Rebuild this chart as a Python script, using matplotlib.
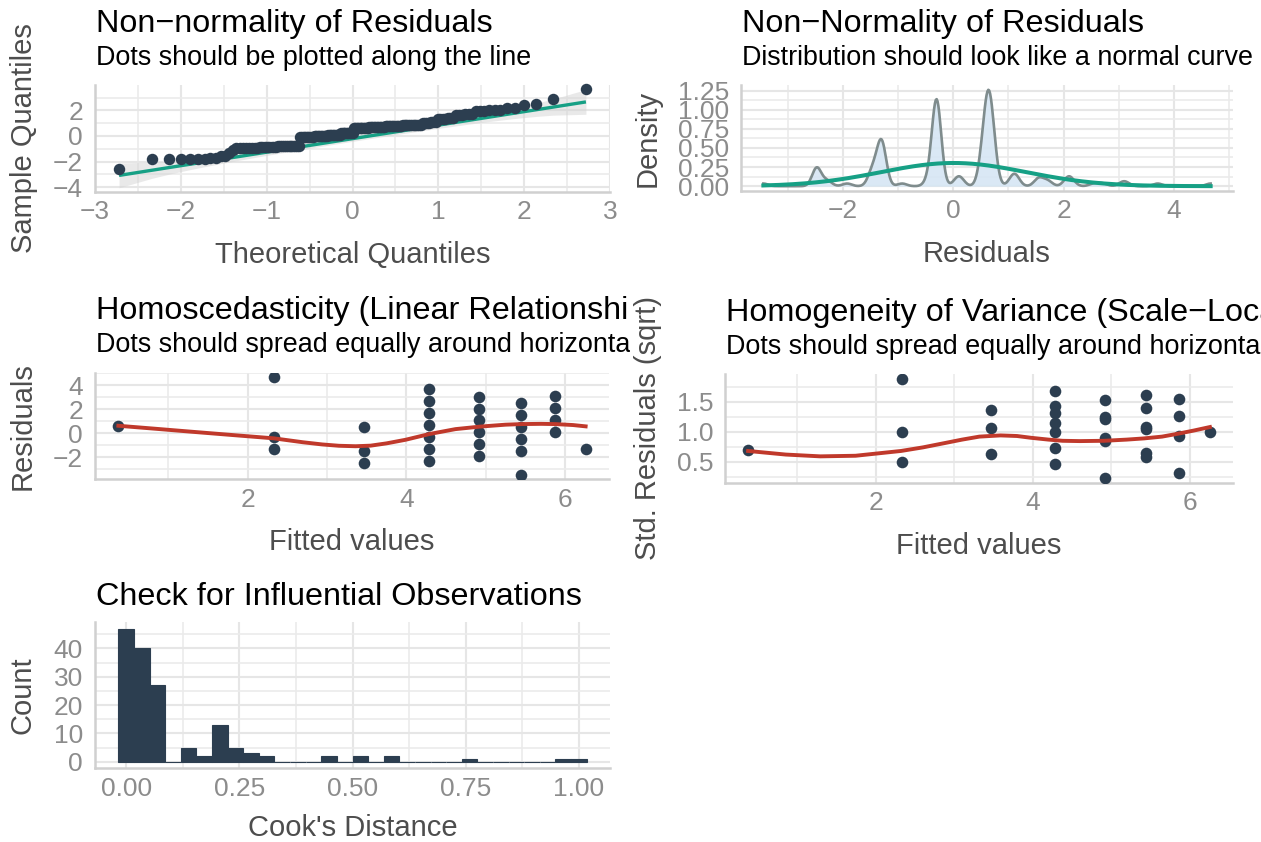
import numpy as np
import matplotlib
matplotlib.use("Agg")
import matplotlib.pyplot as plt
from matplotlib.transforms import Bbox
from statistics import NormalDist

# --- residuals vs fitted (one entry per distinct point, with its multiplicity) ---
fitted = [0.37,
          2.33, 2.33, 2.33,
          3.47, 3.47, 3.47,
          4.29, 4.29, 4.29, 4.29, 4.29, 4.29, 4.29,
          4.92, 4.92, 4.92, 4.92, 4.92, 4.92,
          5.44, 5.44, 5.44, 5.44, 5.44, 5.44,
          5.87, 5.87, 5.87, 5.87,
          6.26]
resid = [0.63,
         4.67, -0.32, -1.32,
         0.52, -1.48, -2.48,
         3.71, 2.71, 1.71, 0.71, -0.29, -1.29, -2.29,
         3.07, 2.07, 1.07, 0.07, -0.93, -1.93,
         2.55, 1.55, 0.55, -0.45, -1.45, -3.45,
         3.13, 2.13, 1.13, 0.13,
         -1.30]
resid_n = [24,
           1, 17, 8,
           4, 3, 7,
           1, 1, 2, 12, 16, 8, 2,
           1, 2, 2, 2, 1, 1,
           1, 3, 5, 2, 3, 1,
           1, 2, 3, 2,
           1]
density_bw = 0.083

# loess smooths as drawn
smooth_resid_x = [0.37, 0.8, 1.26, 1.8, 2.33, 2.7, 2.94, 3.15, 3.36, 3.55, 3.75,
                  3.99, 4.29, 4.62, 4.93, 5.25, 5.45, 5.7, 5.88, 6.1, 6.26]
smooth_resid_y = [0.63, 0.40, 0.15, -0.14, -0.42, -0.75, -0.93, -1.04, -1.08, -1.03, -0.84,
                  -0.54, -0.06, 0.35, 0.56, 0.72, 0.77, 0.79, 0.77, 0.69, 0.58]
smooth_scale_x = [0.37, 0.85, 1.29, 1.74, 2.32, 2.6, 2.87, 3.1, 3.32, 3.59, 3.8,
                  3.98, 4.2, 4.38, 4.6, 4.91, 5.2, 5.42, 5.65, 5.86, 6.05, 6.26]
smooth_scale_y = [0.68, 0.62, 0.59, 0.60, 0.68, 0.74, 0.81, 0.87, 0.92, 0.94, 0.93,
                  0.90, 0.87, 0.85, 0.845, 0.85, 0.87, 0.89, 0.92, 0.97, 1.02, 1.08]

# --- QQ plot: sorted standardized residuals as runs of (level, count) ---
qq_levels = [-2.56, -1.80, -1.77, -1.70, -1.58, -1.33, -1.06, -0.92, -0.87, -0.82, -0.76,
             -0.10, 0.00, 0.10, 0.22, 0.64, 0.70, 0.76, 0.84,
             1.04, 1.12, 1.30, 1.38, 1.60, 1.68, 1.95, 2.05, 2.15,
             2.43, 2.48, 2.87, 3.70]
qq_counts = [1, 3, 3, 2, 2, 1, 1, 8, 8, 7, 5,
             9, 9, 9, 9, 11, 11, 11, 11,
             4, 3, 4, 3, 3, 3, 3, 3, 2,
             1, 1, 1, 1]
qq_intercept = -0.21
qq_slope = 1.055

# --- Cook's distance histogram (30 bins over the data range) ---
cooks_range = (0.0, 1.0)
cooks_counts = [47, 40, 27, 0, 5, 2, 13, 5, 3, 2, 0, 0, 0, 2, 0,
                2, 0, 2, 0, 0, 0, 0, 1, 0, 0, 0, 0, 0, 1, 1]

W, H = 1261, 842
DOT = "#2c3e50"
GREEN = "#16a085"
RED = "#c0392b"
TICK = "#8c8c8c"
LABEL = "#4d4d4d"

plt.rcParams["font.family"] = ["Liberation Sans", "DejaVu Sans"]
fig = plt.figure(figsize=(W / 100, H / 100), dpi=100)


def panel(box):
    x0, y0, x1, y1 = box
    ax = fig.add_axes([x0 / W, 1 - y1 / H, (x1 - x0) / W, (y1 - y0) / H])
    for s in ("top", "right"):
        ax.spines[s].set_visible(False)
    for s in ("left", "bottom"):
        ax.spines[s].set_color("#d0d0d0")
        ax.spines[s].set_linewidth(1.8)
    ax.grid(True, which="major", color="#e6e6e6", linewidth=1.5)
    ax.grid(True, which="minor", color="#ebebeb", linewidth=1.2)
    ax.set_axisbelow(True)
    ax.tick_params(which="both", length=0, labelsize=19, labelcolor=TICK)
    ax.tick_params(axis="y", pad=8.6)
    ax.tick_params(axis="x", pad=6)
    return ax


def ticks(ax, xt, yt, xminor, yminor, xfmt="{:g}", yfmt="{:g}"):
    lab = lambda f, v: f.format(v).replace("-", "\u2212")
    ax.set_xticks(xt, [lab(xfmt, v) for v in xt])
    ax.set_yticks(yt, [lab(yfmt, v) for v in yt])
    ax.set_xticks(xminor, minor=True)
    ax.set_yticks(yminor, minor=True)


def cell_text(x, base, s, size, cell, color="black"):
    # titles are clipped to their own column of the grid
    t = fig.text(x / W, 1 - base / H, s, fontsize=size, ha="left", va="baseline", color=color)
    t.set_clip_box(Bbox.from_extents(cell[0], 0, cell[1], H))
    t.set_clip_on(True)


def titles(box, title, subtitle, cell):
    x0, y0 = box[0] + 1, box[1]
    if subtitle:
        cell_text(x0, y0 - 53, title, 23.3, cell)
        cell_text(x0, y0 - 20, subtitle, 19.4, cell)
    else:
        cell_text(x0, y0 - 17, title, 23.3, cell)


def axis_titles(box, xlabel, ylabel, ylab_x, xlab_gap=71):
    x0, y0, x1, y1 = box
    fig.text((x0 + x1) / 2 / W, 1 - (y1 + xlab_gap) / H, xlabel, fontsize=21,
             color=LABEL, ha="center", va="baseline")
    fig.text(ylab_x / W, 1 - (y0 + y1) / 2 / H, ylabel, fontsize=21, color=LABEL,
             ha="center", va="center", rotation=90)


def expand(lo, hi, f=0.05):
    r = hi - lo
    return lo - f * r, hi + f * r


LEFT, RIGHT = (0, 630), (631, W)
p1 = (95, 85, 610, 191.7)
p2 = (741, 85, 1233, 191)
p3 = (95, 372.5, 609, 479.5)
p4 = (725, 374, 1233, 482.8)
p5 = (95, 622, 610, 768.3)

fitted_a = np.array(fitted)
resid_a = np.array(resid)
all_resid = np.repeat(resid_a, resid_n)
resid_sd = all_resid.std(ddof=1)

# Non-normality: QQ plot
ax = panel(p1)
sample = np.repeat(qq_levels, qq_counts)
n = len(sample)
nd = NormalDist()
prob = (np.arange(1, n + 1) - 0.5) / n
theo = np.array([nd.inv_cdf(p) for p in prob])
line = qq_intercept + qq_slope * theo
dens = np.array([nd.pdf(z) for z in theo])
se = qq_slope / dens * np.sqrt(prob * (1 - prob) / n)
zc = nd.inv_cdf(0.975)
ax.fill_between(theo, line - zc * se, line + zc * se, color="#d4d4d4", alpha=0.5, lw=0, zorder=2)
ax.plot(theo, line, color=GREEN, lw=2.4, zorder=3, solid_capstyle="butt")
ax.scatter(theo, sample, s=68, color=DOT, lw=0, zorder=4, clip_on=False)
ax.set_xlim(expand(theo.min(), theo.max()))
ax.set_ylim(-4.35, 3.98)
ticks(ax, [-3, -2, -1, 0, 1, 2, 3], [-4, -2, 0, 2],
      [-2.5, -1.5, -0.5, 0.5, 1.5, 2.5], [-3, -1, 1, 3])
titles(p1, "Non\u2212normality of Residuals", "Dots should be plotted along the line", LEFT)
axis_titles(p1, "Theoretical Quantiles", "Sample Quantiles", 24)

# Non-normality: density of residuals against a normal curve
ax = panel(p2)
grid = np.linspace(all_resid.min(), all_resid.max(), 512)
kde = np.exp(-0.5 * ((grid[:, None] - all_resid[None, :]) / density_bw) ** 2).sum(axis=1)
kde /= len(all_resid) * density_bw * np.sqrt(2 * np.pi)
norm_curve = NormalDist(all_resid.mean(), resid_sd)
normal = np.array([norm_curve.pdf(v) for v in grid])
ax.fill_between(grid, 0, kde, color="#d6e6f4", alpha=0.9, lw=0, zorder=2)
ax.plot(grid, kde, color="#7f8c8d", lw=1.9, zorder=3)
ax.plot(grid, normal, color=GREEN, lw=2.9, zorder=4)
ax.set_xlim(expand(grid.min(), grid.max()))
ax.set_ylim(expand(0, kde.max()))
ticks(ax, [-2, 0, 2, 4], [0, 0.25, 0.5, 0.75, 1.0, 1.25],
      [-3, -1, 1, 3, 5], [0.125, 0.375, 0.625, 0.875, 1.125], yfmt="{:.2f}")
titles(p2, "Non\u2212Normality of Residuals", "Distribution should look like a normal curve", RIGHT)
axis_titles(p2, "Residuals", "Density", 648)

# Homoscedasticity: residuals vs fitted
ax = panel(p3)
ax.scatter(fitted_a, resid_a, s=70, color=DOT, lw=0, zorder=3)
ax.plot(smooth_resid_x, smooth_resid_y, color=RED, lw=2.8, zorder=4)
ax.set_xlim(expand(fitted_a.min(), fitted_a.max()))
ax.set_ylim(expand(resid_a.min(), resid_a.max()))
ticks(ax, [2, 4, 6], [-2, 0, 2, 4], [1, 3, 5], [-3, -1, 1, 3, 5])
titles(p3, "Homoscedasticity (Linear Relationship)",
       "Dots should spread equally around horizontal line", LEFT)
axis_titles(p3, "Fitted values", "Residuals", 23)

# Homogeneity of variance: scale-location
ax = panel(p4)
scale_y = np.sqrt(np.abs(resid_a) / resid_sd)
ax.scatter(fitted_a, scale_y, s=70, color=DOT, lw=0, zorder=3)
ax.plot(smooth_scale_x, smooth_scale_y, color=RED, lw=2.8, zorder=4)
ax.set_xlim(expand(fitted_a.min(), fitted_a.max()))
ax.set_ylim(expand(scale_y.min(), scale_y.max()))
ticks(ax, [2, 4, 6], [0.5, 1.0, 1.5], [1, 3, 5], [0.25, 0.75, 1.25, 1.75], yfmt="{:.1f}")
titles(p4, "Homogeneity of Variance (Scale\u2212Location)",
       "Dots should spread equally around horizontal line", RIGHT)
axis_titles(p4, "Fitted values", "Std. Residuals (sqrt)", 648)

# Influential observations: Cook's distance histogram
ax = panel(p5)
nb = len(cooks_counts)
width = (cooks_range[1] - cooks_range[0]) / (nb - 1)
centers = np.linspace(cooks_range[0], cooks_range[1], nb)
ax.bar(centers, cooks_counts, width=width, color=DOT, edgecolor=DOT, lw=0.8, zorder=3)
ax.set_xlim(expand(centers[0] - width / 2, centers[-1] + width / 2))
ax.set_ylim(expand(0, max(cooks_counts)))
ticks(ax, [0, 0.25, 0.5, 0.75, 1.0], [0, 10, 20, 30, 40],
      [0.125, 0.375, 0.625, 0.875], [5, 15, 25, 35, 45], xfmt="{:.2f}")
titles(p5, "Check for Influential Observations", None, LEFT)
axis_titles(p5, "Cook's Distance", "Count", 23, xlab_gap=68)

fig.savefig("out.png", dpi=100)
